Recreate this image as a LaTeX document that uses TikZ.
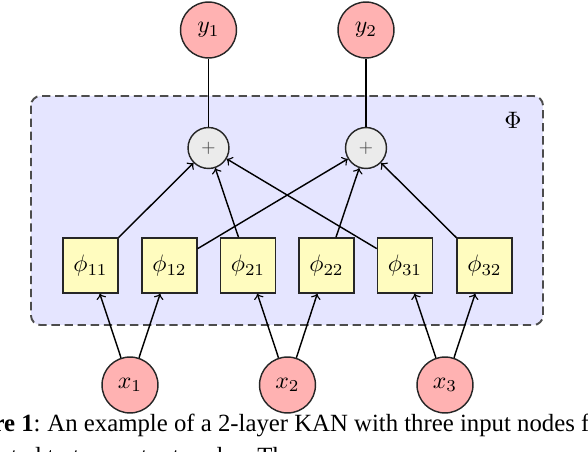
\documentclass[tikz,border=0pt]{standalone}
\usepackage{fontspec}
\newfontfamily\capfont{Liberation Serif}
\begin{document}
\begin{tikzpicture}[x=0.42pt,y=-0.42pt,
  io/.style={circle,draw=black!85,fill=red!30,line width=0.6pt,minimum size=23.5pt,inner sep=0pt},
  sumnode/.style={circle,draw=black!85,fill=black!8,line width=0.6pt,minimum size=17.2pt,inner sep=0pt,font=\scriptsize,text=black!70},
  phibox/.style={rectangle,draw=black!85,fill=yellow!25,line width=0.6pt,minimum size=23.1pt,inner sep=0pt},
  container/.style={draw=black!70,fill=blue!10,dash pattern=on 3.5pt off 2pt,line width=0.8pt,rounded corners=4pt},
  edge/.style={->,line width=0.6pt},
  capt/.style={inner sep=0pt,font=\capfont\fontsize{10.4}{12}\selectfont}]
\useasboundingbox (0,0) rectangle (588,452);
\clip (0,0) rectangle (588,452);
\draw[container] (31,96) rectangle (543,325);
\node at (513,120) {$\Phi$};
% output nodes
\node[io] (y1) at (208.5,30) {$y_1$};
\node[io] (y2) at (366,30) {$y_2$};
% sum nodes
\node[sumnode] (s1) at (208.5,148) {$+$};
\node[sumnode] (s2) at (366,148) {$+$};
% phi boxes
\node[phibox] (p11) at (90.5,265.5) {$\phi_{11}$};
\node[phibox] (p12) at (169.5,265.5) {$\phi_{12}$};
\node[phibox] (p21) at (248,265.5) {$\phi_{21}$};
\node[phibox] (p22) at (326.5,265.5) {$\phi_{22}$};
\node[phibox] (p31) at (405,265.5) {$\phi_{31}$};
\node[phibox] (p32) at (484.5,265.5) {$\phi_{32}$};
% input nodes
\node[io] (x1) at (130,385) {$x_1$};
\node[io] (x2) at (287.5,385) {$x_2$};
\node[io] (x3) at (445,385) {$x_3$};
% connectors
\draw[line width=0.6pt] (s1) -- (y1);
\draw[line width=0.6pt] (s2) -- (y2);
\draw[edge] (p11) -- (s1);
\draw[edge] (p21) -- (s1);
\draw[edge] (p31) -- (s1);
\draw[edge] (p12) -- (s2);
\draw[edge] (p22) -- (s2);
\draw[edge] (p32) -- (s2);
\draw[edge] (x1) -- (p11);
\draw[edge] (x1) -- (p12);
\draw[edge] (x2) -- (p21);
\draw[edge] (x2) -- (p22);
\draw[edge] (x3) -- (p31);
\draw[edge] (x3) -- (p32);
% caption (cropped)
\node[capt,anchor=base east] (capA) at (41,432) {\textbf{Figure 1}:};
\node[capt,anchor=base west] (capB) at (47,432) {An example of a 2-layer KAN with three input nodes fully};
\node[capt,anchor=base east] (capC) at (250,465) {connected to two output nodes.};
\node[capt,anchor=base west] (capD) at (257,465) {The};
\end{tikzpicture}
\end{document}
